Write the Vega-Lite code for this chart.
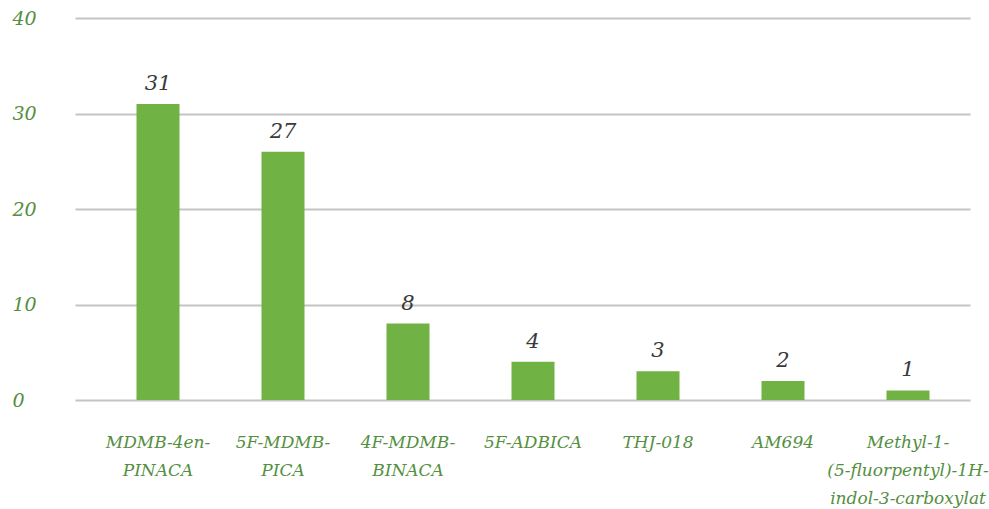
{
  "$schema": "https://vega.github.io/schema/vega-lite/v6.json",
  "width": 895,
  "height": 382,
  "autosize": {"type": "none"},
  "padding": {"left": 75, "top": 18, "right": 19, "bottom": 109},
  "background": "white",
  "config": {"view": {"stroke": null}},
  "data": {
    "values": [
      {"name": "MDMB-4en-\nPINACA", "value": 31, "label": "31"},
      {"name": "5F-MDMB-\nPICA", "value": 26, "label": "27"},
      {"name": "4F-MDMB-\nBINACA", "value": 8, "label": "8"},
      {"name": "5F-ADBICA", "value": 4, "label": "4"},
      {"name": "THJ-018", "value": 3, "label": "3"},
      {"name": "AM694", "value": 2, "label": "2"},
      {"name": "Methyl-1-\n(5-fluorpentyl)-1H-\nindol-3-carboxylat", "value": 1, "label": "1"}
    ]
  },
  "encoding": {
    "x": {
      "field": "name",
      "type": "nominal",
      "sort": null,
      "scale": {"paddingInner": 0.656, "paddingOuter": 0.408},
      "axis": {
        "title": null,
        "labelAngle": 0,
        "labelExpr": "split(datum.value, '\\n')",
        "labelFont": "DejaVu Serif",
        "labelFontStyle": "italic",
        "labelFontSize": 17,
        "labelColor": "#548f3f",
        "labelLineHeight": 28,
        "labelPadding": 34,
        "labelBaseline": "top",
        "labelOffset": 10.5,
        "ticks": false,
        "domain": false,
        "labelLimit": 300
      }
    },
    "y": {
      "field": "value",
      "type": "quantitative",
      "scale": {"domain": [0, 40]},
      "axis": {
        "title": null,
        "values": [0, 10, 20, 30, 40],
        "labelAlign": "left",
        "labelPadding": 63,
        "labelFont": "DejaVu Serif",
        "labelFontStyle": "italic",
        "labelFontSize": 19,
        "labelColor": "#548f3f",
        "ticks": false,
        "domain": false,
        "gridColor": "#c4c4c4",
        "gridWidth": 2
      }
    }
  },
  "layer": [
    {"mark": {"type": "bar", "color": "#70b244", "xOffset": 10.5}},
    {
      "mark": {
        "type": "text",
        "baseline": "bottom",
        "dy": -10,
        "xOffset": 10.5,
        "font": "DejaVu Serif",
        "fontStyle": "italic",
        "fontSize": 21,
        "color": "#3a3a3a"
      },
      "encoding": {"text": {"field": "label"}}
    }
  ]
}
